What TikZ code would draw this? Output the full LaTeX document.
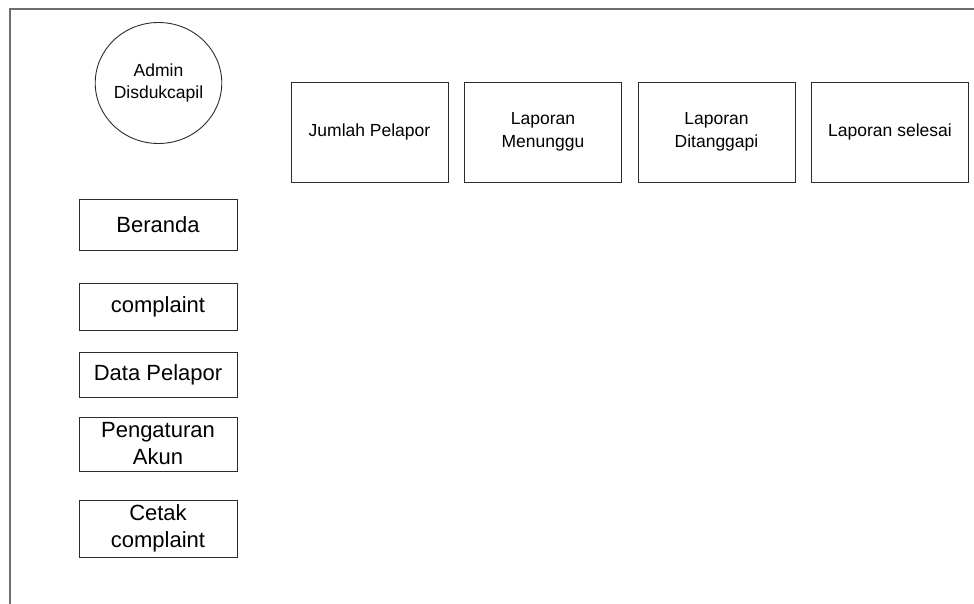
\documentclass[tikz,border=0pt]{standalone}
\usepackage{fontspec}
\setmainfont{Liberation Sans}
\usetikzlibrary{shapes.geometric}
\definecolor{framegray}{HTML}{6E6E6E}
\definecolor{boxline}{HTML}{2B2B2B}

\tikzset{
  menubox/.style={draw=boxline, line width=0.9pt, minimum width=158pt,
                  inner sep=0pt, align=center,
                  font=\fontsize{22}{27}\selectfont},
  cardbox/.style={draw=boxline, line width=0.9pt, minimum width=157pt,
                  minimum height=100pt, inner sep=0pt, align=center,
                  font=\fontsize{17.5}{22.5}\selectfont},
  actor/.style={ellipse, draw=boxline, line width=0.9pt, minimum width=113pt,
                minimum height=121pt, inner sep=0pt, align=center,
                font=\fontsize{17.5}{22}\selectfont}
}

\begin{document}
\begin{tikzpicture}[x=1pt, y=-1pt]
  \useasboundingbox (0,0) rectangle (974,604);
  % page frame
  \draw[framegray, line width=1.4pt] (10,604) -- (10,9) -- (974,9);

  \node[actor] (admin) at (158.5,83) {Admin\\Disdukcapil};

  % dashboard cards
  \foreach \i/\lbl in {1/{Jumlah Pelapor},2/{Laporan\\Menunggu},
                       3/{Laporan\\Ditanggapi},4/{Laporan selesai}}{
    \node[cardbox] (card\i) at (\i*173.5+196, 132) {\lbl};
  }

  % side menu
  \foreach \i/\y/\h/\lbl in {1/224.5/51/Beranda, 2/306.5/47/complaint,
                             3/374.5/45/{Data Pelapor}, 4/444/54/{Pengaturan\\Akun},
                             5/528.5/57/{Cetak\\complaint}}{
    \node[menubox, minimum height=\h pt] (menu\i) at (158,\y) {\lbl};
  }
\end{tikzpicture}
\end{document}
